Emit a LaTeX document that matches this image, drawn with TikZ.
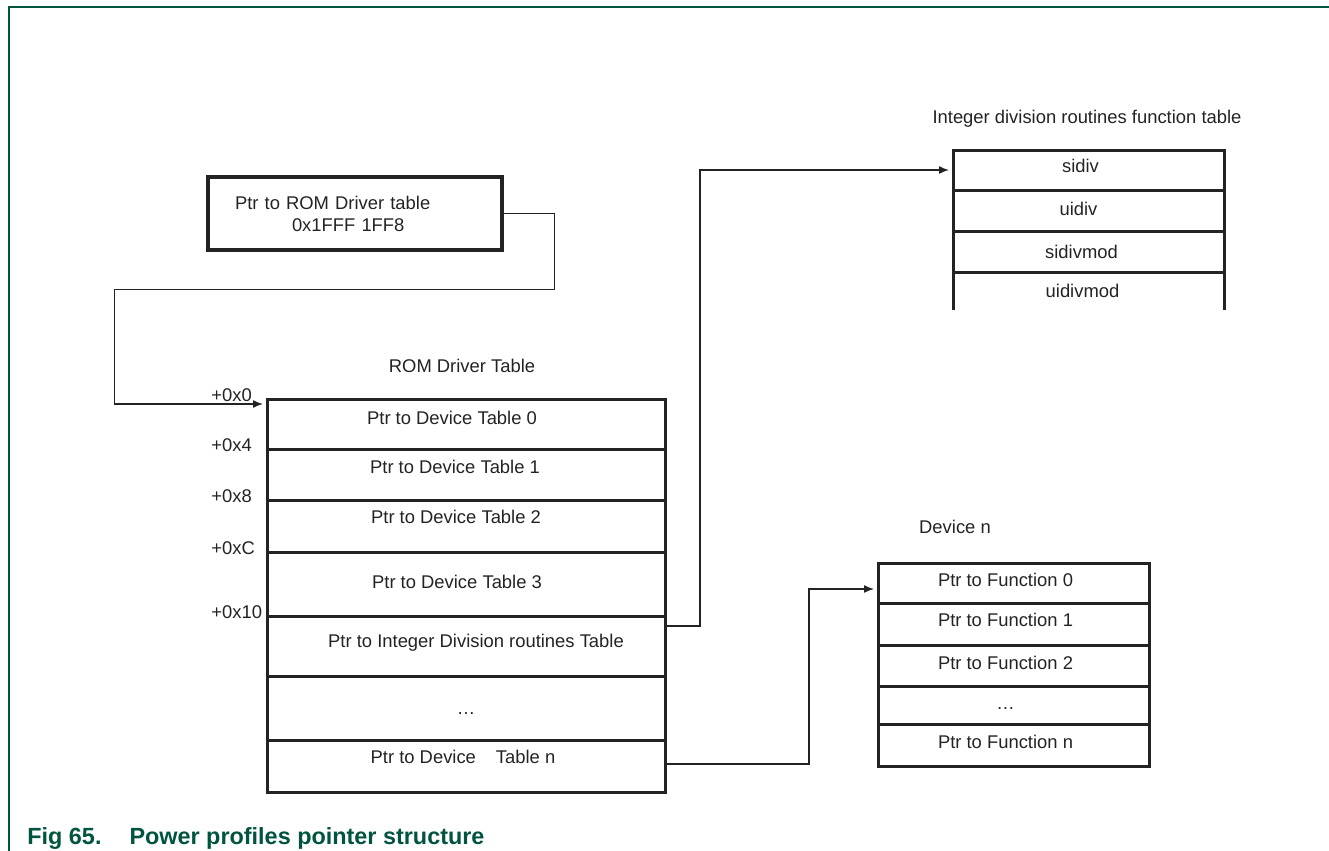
\documentclass[tikz,border=0pt]{standalone}
\usepackage{fontspec}
\setmainfont{Liberation Sans}
\usepackage{tikz}
\usetikzlibrary{arrows.meta,positioning}
\definecolor{nxpgreen}{RGB}{0,84,64}
\definecolor{ink}{RGB}{35,35,35}

\begin{document}
\begin{tikzpicture}[
    x=0.5pt, y=-0.5pt,
    every node/.style={font=\fontsize{9.2}{11}\selectfont, text=ink},
    cell/.style={draw=ink, line width=1.5pt, outer sep=0pt, inner sep=0pt, text height=6.5pt, text depth=0pt},
    rom/.style={cell, minimum width=199pt},
    fn/.style={cell, minimum width=135.5pt},
    lift/.style={text depth=#1},
    nudge/.style={execute at begin node={\hspace*{#1}}},
    arrow/.style={-{Latex[length=5pt,width=4pt]}, draw=ink, line width=0.7pt, shorten >=2pt}
]
\useasboundingbox (0,0) rectangle (1329,851);
\draw[nxpgreen, line width=1pt] (9,851) -- (9,7) -- (1329,7);

% pointer to the driver table
\node[draw=ink, line width=1.6pt, minimum width=147pt, minimum height=36.5pt, text width=120pt, align=left, inner sep=0pt] (ptr) at (355,213.5) {Ptr to ROM Driver table\\\hspace*{28.5pt}0x1FFF 1FF8};

% ROM driver table
\node (romtbl) at (462,366) {ROM Driver Table};
\node[rom, minimum height=25pt, lift=6pt, nudge=-14pt] (r0) at (466,424) {Ptr to Device Table 0};
\node[rom, minimum height=25.5pt, lift=8pt, nudge=-11pt, below=0pt of r0] (r1) {Ptr to Device Table 1};
\node[rom, minimum height=26pt, lift=9pt, nudge=-10pt, below=0pt of r1] (r2) {Ptr to Device Table 2};
\node[rom, minimum height=32pt, lift=2pt, nudge=-9pt, below=0pt of r2] (r3) {Ptr to Device Table 3};
\node[rom, minimum height=30pt, lift=5pt, nudge=10pt, below=0pt of r3] (r4) {Ptr to Integer Division routines Table};
\node[rom, minimum height=32pt, lift=0pt, below=0pt of r4] (r5) {\ldots};
\node[rom, minimum height=26pt, lift=9pt, nudge=-3pt, below=0pt of r5] (r6) {Ptr to Device\hspace{10pt}Table n};
\foreach \t/\r [count=\i from 0] in {+0x0/r0,+0x4/r1,+0x8/r2,+0xC/r3,+0x10/r4}
    \node[anchor=base west, inner sep=0pt] (off\i) at ([xshift=-28pt,yshift=-1pt]\r.north west) {\t};

% integer division table
\node (idivtbl) at (1087,119) {Integer division routines function table};
\node[fn, minimum height=20pt, lift=4pt, nudge=-8pt] (f0) at (1088.5,170) {sidiv};
\node[fn, minimum height=20.5pt, lift=2pt, nudge=-10pt, below=0pt of f0] (f1) {uidiv};
\node[fn, minimum height=20.5pt, nudge=-7pt, below=0pt of f1] (f2) {sidivmod};
\node[fn, minimum height=19pt, nudge=-6pt, draw=none, below=0pt of f2] (f3) {uidivmod};
\draw[draw=ink, line width=1.5pt] (f3.south west) -- (f3.north west) (f3.north east) -- (f3.south east);

% device n table
\node (devn) at (955,527) {Device n};
\node[fn, minimum height=20pt, lift=3pt, nudge=-8pt] (d0) at (1013.5,583) {Ptr to Function 0};
\node[fn, minimum height=21pt, lift=4pt, nudge=-8pt, below=0pt of d0] (d1) {Ptr to Function 1};
\node[fn, minimum height=20.5pt, lift=3pt, nudge=-8pt, below=0pt of d1] (d2) {Ptr to Function 2};
\node[fn, minimum height=19pt, lift=2pt, nudge=-8pt, below=0pt of d2] (d3) {\ldots};
\node[fn, minimum height=21pt, lift=3pt, nudge=-8pt, below=0pt of d3] (d4) {Ptr to Function n};

\draw[arrow] (ptr.east) -- ++(51,0) -- ++(0,76) -- ++(-440,0) |- ([yshift=-2.5pt]r0.north west);
\draw[arrow] ([yshift=10pt]r4.east) -- ++(35,0) |- (f0.west);
\draw[arrow] ([yshift=1pt]r6.east) -- ++(144,0) |- ([yshift=-3pt]d0.west);

\node[anchor=base west, inner sep=0pt, text=nxpgreen, font=\fontsize{11.7}{14}\selectfont\bfseries] (cap) at (27,844) {Fig 65.\hspace{14pt}Power profiles pointer structure};
\end{tikzpicture}
\end{document}
